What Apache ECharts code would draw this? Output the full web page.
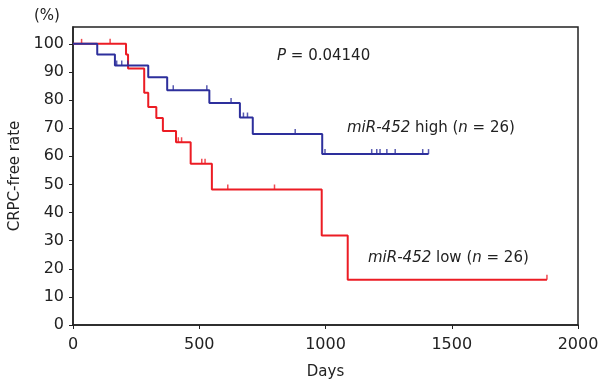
<!DOCTYPE html>
<html>
<head>
<meta charset="utf-8">
<script src="https://cdn.jsdelivr.net/npm/echarts@6/dist/echarts.min.js"></script>
<style>
  html, body { margin: 0; padding: 0; background: #fff; }
  #chart { width: 598px; height: 382px; }
</style>
</head>
<body>
<div id="chart"></div>
<script>
// Kaplan-Meier steps (day, %)
const highDays = [0, 96, 166, 298, 373, 540, 661, 712, 987, 1408];
const highVals = [100, 96.2, 92.3, 88.1, 83.5, 79.0, 73.8, 67.9, 60.8, 60.8];
const highCensor = [173, 193, 217, 397, 530, 626, 675, 691, 880, 998, 1183, 1203, 1216, 1243, 1276, 1385, 1408];

const lowDays = [0, 210, 218, 282, 298, 330, 356, 408, 466, 550, 985, 1088, 1877];
const lowVals = [100, 96.2, 91.2, 82.6, 77.5, 73.6, 69.0, 65.0, 57.4, 48.2, 31.8, 16.1, 16.1];
const lowCensor = [34, 147, 417, 430, 510, 523, 613, 798, 1877];

const xTicks = [0, 500, 1000, 1500, 2000];
const yTicks = [0, 10, 20, 30, 40, 50, 60, 70, 80, 90, 100];

const font = 'DejaVu Sans';
const blue = '#2d2f9c';
const red = '#ec1c24';

function curveAt(days, vals, d) {
  let v = vals[0];
  for (let i = 0; i < days.length; i++) {
    if (days[i] <= d) v = vals[i];
  }
  return v;
}

const chart = echarts.init(document.getElementById('chart'));
chart.setOption({
  animation: false,
  backgroundColor: '#fff',
  grid: {
    left: 73, right: 20, top: 27, bottom: 57,
    containLabel: false, outerBoundsMode: 'none',
    show: true, borderColor: '#222', borderWidth: 1.5
  },
  xAxis: {
    type: 'value', min: 0, max: 2000,
    name: 'Days', nameLocation: 'middle', nameGap: 40,
    nameTextStyle: { fontFamily: font, fontSize: 15, color: '#222' },
    axisLine: { lineStyle: { color: '#222', width: 1.5 } },
    axisTick: { length: 4, customValues: xTicks, lineStyle: { color: '#222' } },
    axisLabel: {
      fontFamily: font, fontSize: 16, color: '#222', margin: 12,
      customValues: xTicks, formatter: v => String(v)
    },
    splitLine: { show: false }
  },
  yAxis: {
    type: 'value', min: 0, max: 106,
    name: 'CRPC-free rate', nameLocation: 'middle', nameGap: 43,
    nameTextStyle: { fontFamily: font, fontSize: 15, color: '#222' },
    axisLine: { show: true, lineStyle: { color: '#222', width: 1.5 } },
    axisTick: { show: true, length: 4, customValues: yTicks, lineStyle: { color: '#222' } },
    axisLabel: { fontFamily: font, fontSize: 16, color: '#222', margin: 9, customValues: yTicks },
    splitLine: { show: false }
  },
  series: [
    {
      name: 'high', type: 'line', step: 'end', showSymbol: false,
      data: highDays.map((d, i) => [d, highVals[i]]),
      lineStyle: { color: blue, width: 2 }, z: 3
    },
    {
      name: 'low', type: 'line', step: 'end', showSymbol: false,
      data: lowDays.map((d, i) => [d, lowVals[i]]),
      lineStyle: { color: red, width: 2 }, z: 2
    },
    {
      type: 'scatter', symbol: 'rect', symbolSize: [1.5, 5], symbolOffset: [0, -2.5],
      itemStyle: { color: blue },
      data: highCensor.map(d => [d, curveAt(highDays, highVals, d)]), z: 3
    },
    {
      type: 'scatter', symbol: 'rect', symbolSize: [1.5, 5], symbolOffset: [0, -2.5],
      itemStyle: { color: red },
      data: lowCensor.map(d => [d, curveAt(lowDays, lowVals, d)]), z: 2
    }
  ],
  graphic: [
    {
      type: 'text', left: 34, top: 9,
      style: { text: '(%)', font: '15px "DejaVu Sans"', fill: '#222' }
    },
    {
      type: 'text', left: 277, top: 49,
      style: {
        text: '{i|P} = 0.04140', font: '15px "DejaVu Sans"', fill: '#222',
        rich: { i: { fontStyle: 'italic', fontFamily: font, fontSize: 15 } }
      }
    },
    {
      type: 'text', left: 347, top: 121,
      style: {
        text: '{i|miR-452} high ({i|n} = 26)', font: '15px "DejaVu Sans"', fill: '#222',
        rich: { i: { fontStyle: 'italic', fontFamily: font, fontSize: 15 } }
      }
    },
    {
      type: 'text', left: 368, top: 251,
      style: {
        text: '{i|miR-452} low ({i|n} = 26)', font: '15px "DejaVu Sans"', fill: '#222',
        rich: { i: { fontStyle: 'italic', fontFamily: font, fontSize: 15 } }
      }
    }
  ]
});
</script>
</body>
</html>
